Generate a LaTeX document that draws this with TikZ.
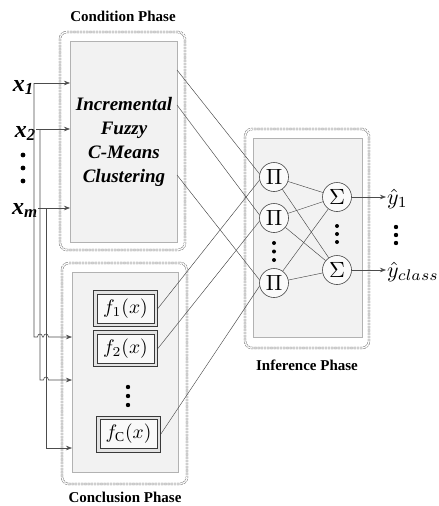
\documentclass[tikz,border=0pt]{standalone}
\usepackage{fontspec}
\usepackage{graphicx}
\setmainfont{Liberation Serif}
\usetikzlibrary{arrows.meta,shadows}
\newcommand{\bigmath}[2]{\scalebox{#1}{$#2$}}
\begin{document}
\begin{tikzpicture}[x=1pt,y=-1pt,
  phase/.style={draw=gray!90!black, line width=0.5pt, double=white, double distance=1.4pt,
    dash pattern=on 2.2pt off 1pt, rounded corners=7pt, fill=white, inner sep=0pt, outer sep=0pt, anchor=north west},
  panel/.style={draw=gray!60, fill=gray!10, line width=0.9pt, inner sep=0pt, outer sep=0pt, anchor=north west,
    drop shadow={shadow xshift=1.2pt, shadow yshift=-1.2pt, opacity=0.25}},
  fbox/.style={draw=gray!45!black, line width=0.7pt, fill=gray!22,
    minimum width=64pt, minimum height=36pt, inner sep=0pt,
    path picture={\draw[gray!45!black, line width=0.6pt, fill=gray!5]
      ([shift={(4pt,-3.5pt)}]path picture bounding box.north west) rectangle
      ([shift={(-3pt,3.5pt)}]path picture bounding box.south east);}},
  neuron/.style={circle, draw=gray!55!black, line width=0.6pt, fill=gray!4, minimum size=29pt, inner sep=0pt},
  phaselab/.style={font=\bfseries\fontsize{15}{15}\selectfont},
  inlab/.style={anchor=base east, inner sep=0pt, font=\bfseries\itshape\fontsize{24}{24}\selectfont},
  outlab/.style={anchor=west, inner sep=1pt},
  wire/.style={draw=gray!60!black, line width=0.6pt},
  arr/.style={wire, -{Stealth[length=6pt,width=4.5pt]}},
  link/.style={draw=gray!55!black, line width=0.45pt},
  dot/.style={fill=black}
]
\useasboundingbox (0,0) rectangle (439,506);

% ---------- Condition phase ----------
\node[phaselab] (condlab) at (123,16) {Condition Phase};
\node[phase, minimum width=125pt, minimum height=218pt] (condout) at (60,32) {};
\node[panel, minimum width=107pt, minimum height=201pt] (condin) at (70,41) {};
\node[font=\bfseries\itshape\fontsize{19}{24}\selectfont, align=center] (ifcm) at (124,142)
  {Incremental\\Fuzzy\\C-Means\\Clustering};

% ---------- Conclusion phase ----------
\node[phase, minimum width=125pt, minimum height=221pt] (concout) at (62,263) {};
\node[panel, minimum width=106pt, minimum height=200pt] (concin) at (72,272) {};
\node[phaselab] (conclab) at (125,497) {Conclusion Phase};
\node[fbox] (f1) at (125.5,308.5) {\bigmath{1.95}{f_1(x)}};
\node[fbox] (f2) at (125.5,348.5) {\bigmath{1.95}{f_2(x)}};
\node[fbox] (fc) at (128.5,434) {\bigmath{1.95}{f_{\mathrm{C}}(x)}};
\fill[dot] (128,387) circle (2.2) (128,396) circle (2.2) (128,405) circle (2.2);

% ---------- Inference phase ----------
\node[phase, minimum width=124pt, minimum height=219pt] (infout) at (245,129) {};
\node[panel, minimum width=109pt, minimum height=199pt] (infin) at (253,138) {};
\node[phaselab] (inflab) at (307,365) {Inference Phase};
\node[neuron] (p1) at (274,177) {\bigmath{2.2}{\Pi}};
\node[neuron] (p2) at (274,218) {\bigmath{2.2}{\Pi}};
\node[neuron] (p3) at (274,283) {\bigmath{2.2}{\Pi}};
\node[neuron] (s1) at (337,197) {\bigmath{2.2}{\Sigma}};
\node[neuron] (s2) at (337,270) {\bigmath{2.2}{\Sigma}};
\fill[dot] (274,243) circle (2) (274,251.5) circle (2) (274,260) circle (2);
\fill[dot] (337,226) circle (2) (337,234) circle (2) (337,242) circle (2);

% ---------- outputs ----------
\node[outlab] (y1) at (386,199) {\bigmath{2.2}{\hat{y}_1}};
\node[outlab] (yc) at (386,272) {\bigmath{2.2}{\hat{y}_{class}}};
\fill[dot] (396,227) circle (2.2) (396,235) circle (2.2) (396,243) circle (2.2);
\draw[arr] (s1) -- (s1 -| y1.west);
\draw[arr] (s2) -- (s2 -| yc.west);

% ---------- inputs ----------
\coordinate (j1) at (34,83);
\coordinate (j2) at (40,129);
\coordinate (jm) at (46,208);
\node[inlab] (x1) at (34,91) {x\textsubscript{1}};
\node[inlab] (x2) at (36,137) {x\textsubscript{2}};
\node[inlab] (xm) at (38,214) {x\textsubscript{m}};
\fill[dot] (23,155) circle (2.4) (23,168) circle (2.4) (23,181) circle (2.4);

\draw[arr] (j1) -- (j1 -| condin.west);
\draw[arr] (x2.east |- j2) -- (j2 -| condin.west);
\draw[arr] (xm.east |- jm) -- (jm -| condin.west);

\coordinate (k1) at (34,337);
\coordinate (k2) at (40,380);
\coordinate (km) at (46,448);
\draw[arr] (j1) -- (k1) -- (37.5,337) .. controls (37.5,333) and (42.5,333) .. (42.5,337)
  -- (43.5,337) .. controls (43.5,333) and (48.5,333) .. (48.5,337) -- (k1 -| concin.west);
\draw[arr] (j2) -- (k2) -- (43.5,380) .. controls (43.5,376) and (48.5,376) .. (48.5,380)
  -- (k2 -| concin.west);
\draw[arr] (jm) -- (km) -- (km -| concin.west);

% ---------- links into the inference phase ----------
\coordinate (c1) at (condin.east |- 0,70);
\coordinate (c2) at (condin.east |- 0,105);
\coordinate (c3) at (condin.east |- 0,175);
\draw[link] (c1) -- (p1.168);
\draw[link] (c2) -- (p2.168);
\draw[link] (c3) -- (p3.168);
\draw[link] (f1.east) -- (p1.192);
\draw[link] (f2.east) -- (p2.192);
\draw[link] (fc.east) -- (p3.192);

\foreach \p in {p1,p2,p3}{
  \draw[link] (\p) -- (s1);
  \draw[link] (\p) -- (s2);
}
\end{tikzpicture}
\end{document}
